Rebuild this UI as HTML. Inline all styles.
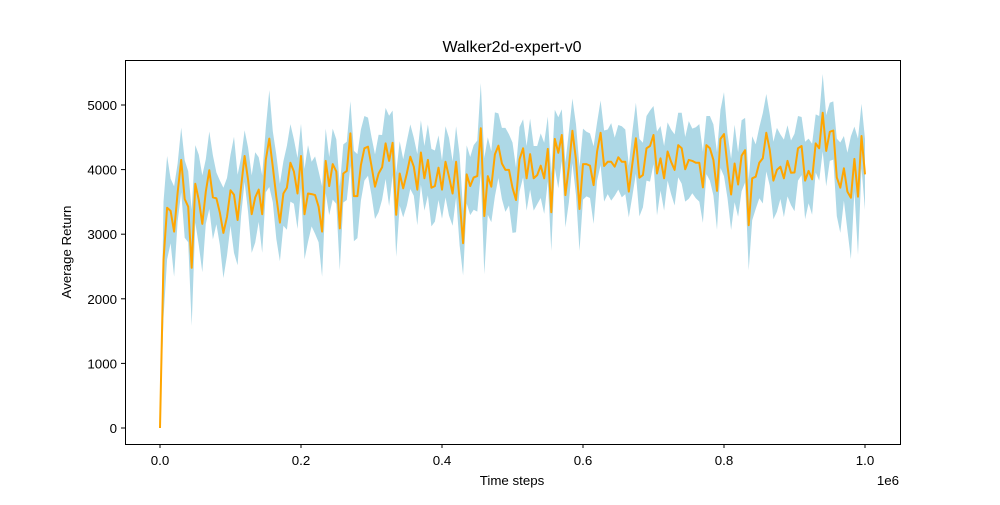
<!DOCTYPE html>
<html><head><meta charset="utf-8"><style>
body{margin:0;background:#fff;}
svg text{font-family:"Liberation Sans","DejaVu Sans",sans-serif;fill:#000;}
</style></head><body>
<svg id="chart" width="1000" height="500" viewBox="0 0 1000 500">
<rect x="0" y="0" width="1000" height="500" fill="#fff"/>
<g id="plot"></g>
<rect x="125.5" y="60.5" width="775" height="384" fill="none" stroke="#000" stroke-width="1"/>
<g id="axes"></g>
<text x="512" y="52" font-size="16" text-anchor="middle">Walker2d-expert-v0</text>
<text x="512" y="485" font-size="13.3" text-anchor="middle">Time steps</text>
<text x="899" y="485" font-size="13.3" text-anchor="end">1e6</text>
<text transform="translate(71,252) rotate(-90)" font-size="13.3" text-anchor="middle">Average Return</text>
</svg>
<script>
const meanValues=[0,2600,3410,3360,3040,3640,4150,3545,3425,2480,3780,3530,3160,3660,3990,3570,3555,3330,3020,3270,3680,3610,3220,3735,4210,3840,3310,3570,3690,3310,4150,4480,4045,3580,3180,3630,3720,4105,3970,3630,4210,3310,3630,3620,3605,3425,3040,4135,3745,4085,3970,3090,3940,
3980,4560,3590,3590,4070,4330,4355,4055,3735,3940,4035,4405,4135,4415,3300,3940,3710,3940,4200,4045,3690,4265,3865,4150,3720,3745,4030,3690,4120,3890,3630,4120,3530,2860,3925,3745,3880,3900,4640,3280,3900,3735,4235,4370,4095,3995,3995,3720,3530,4160,4330,
3865,4240,3865,3915,4060,3865,4320,3340,4475,4260,4535,3605,4045,4600,4150,3390,4085,4085,4060,3760,4280,4570,4055,4120,4120,4045,4190,4120,4120,3660,4095,4485,3875,3915,4330,4365,4535,3940,4175,3865,4280,4120,3995,4380,4330,4005,4150,4135,4105,4105,3725,
4380,4330,4150,3670,4475,4550,4055,3615,4095,3770,4215,4300,3140,3865,3890,4105,4175,4570,4300,3830,3995,4045,3865,4135,3950,3955,4330,4365,3830,3980,3850,4405,4330,4880,4290,4585,4605,3880,3720,4020,3660,3565,4165,3580,4520,3925];
const sdValues=[0,900,800,500,700,450,500,600,550,900,600,700,750,500,600,650,400,500,700,600,550,900,700,450,400,500,600,700,500,600,500,750,550,650,600,500,650,600,500,550,500,700,750,500,600,550,700,500,450,550,500,650,450,
450,500,700,650,550,500,450,450,500,600,500,550,700,500,650,500,450,500,500,450,550,500,500,550,600,550,500,450,550,600,500,550,700,500,450,450,500,550,700,900,600,550,650,500,550,650,550,700,500,500,450,
500,550,500,450,500,550,500,600,450,550,400,500,550,500,550,650,550,500,500,600,450,500,550,500,600,450,500,550,500,400,500,550,600,500,500,550,450,650,500,500,450,500,550,500,550,500,600,500,550,600,550,
450,500,550,600,450,650,500,550,600,500,550,500,700,650,500,550,700,600,550,600,650,500,600,550,500,600,500,450,600,500,550,450,500,600,550,450,450,600,700,500,600,950,500,900,500,550];
const yTicks=[0,1000,2000,3000,4000,5000];
const xTicks=[0,0.2,0.4,0.6,0.8,1.0];
const xTickLabels=["0.0","0.2","0.4","0.6","0.8","1.0"];
const NS="http://www.w3.org/2000/svg";
const xs=v=>160+v*705;
const ys=v=>428-v*0.0646;
const n=meanValues.length;
const xv=i=>i/(n-1);
const plot=document.getElementById('plot');
let up=[],lo=[],ln=[];
for(let i=0;i<n;i++){
  const sd=sdValues[i]||0;
  up.push(xs(xv(i)).toFixed(1)+','+ys(meanValues[i]+sd).toFixed(1));
  lo.unshift(xs(xv(i)).toFixed(1)+','+ys(meanValues[i]-sd).toFixed(1));
  ln.push(xs(xv(i)).toFixed(1)+','+ys(meanValues[i]).toFixed(1));
}
const band=document.createElementNS(NS,'polygon');
band.setAttribute('points',up.concat(lo).join(' '));
band.setAttribute('fill','#add8e6');


plot.appendChild(band);
const line=document.createElementNS(NS,'polyline');
line.setAttribute('points',ln.join(' '));
line.setAttribute('fill','none');
line.setAttribute('stroke','#ffa500');
line.setAttribute('stroke-width','2');
line.setAttribute('stroke-linejoin','round');


plot.appendChild(line);
const axes=document.getElementById('axes');
yTicks.forEach(t=>{
  const y=ys(t);
  const tk=document.createElementNS(NS,'line');
  tk.setAttribute('x1',121);tk.setAttribute('x2',125);tk.setAttribute('y1',y);tk.setAttribute('y2',y);tk.setAttribute('stroke','#000');
  
  
  axes.appendChild(tk);
  const tx=document.createElementNS(NS,'text');
  tx.setAttribute('x',117);tx.setAttribute('y',y+5);tx.setAttribute('font-size','13.3');tx.setAttribute('text-anchor','end');
  tx.textContent=t;
  
  
  axes.appendChild(tx);
});
xTicks.forEach((t,i)=>{
  const x=xs(t);
  const tk=document.createElementNS(NS,'line');
  tk.setAttribute('x1',x);tk.setAttribute('x2',x);tk.setAttribute('y1',444);tk.setAttribute('y2',448);tk.setAttribute('stroke','#000');
  
  
  axes.appendChild(tk);
  const tx=document.createElementNS(NS,'text');
  tx.setAttribute('x',x);tx.setAttribute('y',465);tx.setAttribute('font-size','13.3');tx.setAttribute('text-anchor','middle');
  tx.textContent=xTickLabels[i];
  
  
  axes.appendChild(tx);
});
</script>
</body></html>
